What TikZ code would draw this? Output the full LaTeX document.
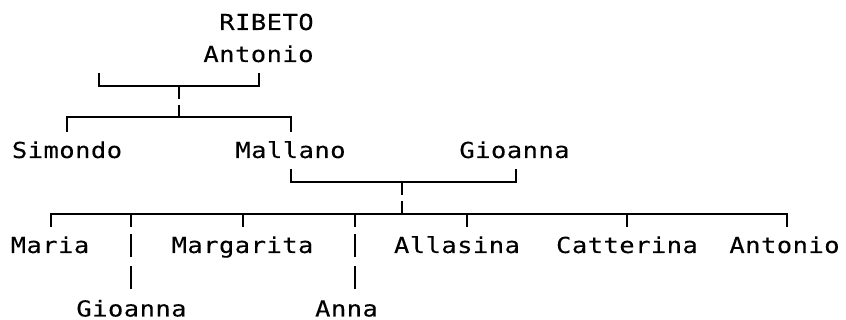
\documentclass[tikz,border=0pt]{standalone}
\usepackage{fontspec}
\newfontfamily\treemono[FakeStretch=1.16,LetterSpace=2,FakeBold=0.12]{DejaVu Sans Mono}
\begin{document}
\begin{tikzpicture}[x=0.75pt,y=-0.75pt,
  person/.style={font=\treemono\fontsize{16.5}{16.5}\selectfont, anchor=base, inner sep=0pt},
  link/.style={line width=1.5pt, line cap=butt}]
\useasboundingbox (0,0) rectangle (846,320);
% names
\node[person] (ribeto)    at (266.5,30)  {RIBETO};
\node[person] (antonio0)  at (258.5,62)  {Antonio};
\node[person] (simondo)   at (67,158)    {Simondo};
\node[person] (mallano)   at (290.5,158) {Mallano};
\node[person] (gioannaW)  at (514.5,158) {Gioanna};
\node[person] (maria)     at (50,253)    {Maria};
\node[person] (margarita) at (242.5,253) {Margarita};
\node[person] (allasina)  at (457,253)   {Allasina};
\node[person] (catterina) at (627,253)   {Catterina};
\node[person] (antonio1)  at (784.5,253) {Antonio};
\node[person] (gioanna1)  at (131.5,316.5) {Gioanna};
\node[person] (anna)      at (346.5,316.5) {Anna};
% junction points
\coordinate (sp0)  at (99,73);
\coordinate (an0)  at (259,73);
\coordinate (m0)   at (179,86);
\coordinate (sim0) at (67,132);
\coordinate (mal0) at (291,132);
\coordinate (mal1) at (291,169);
\coordinate (gio1) at (516,169);
\coordinate (m1)   at (402,182);
\coordinate (mar0) at (51,227);
\coordinate (gi0)  at (130.5,227);
\coordinate (mg0)  at (243,227);
\coordinate (an1)  at (355,227);
\coordinate (al0)  at (467,227);
\coordinate (ca0)  at (627,227);
\coordinate (at0)  at (787,227);
% first generation
\draw[link] (sp0) -- ++(0,13) -| (an0);
\draw[link] (m0) -- ++(0,13);
\draw[link] (m0) ++(0,19) -- ++(0,12);
\draw[link] (sim0) -- ++(0,-15) -| (mal0);
% second generation
\draw[link] (mal1) -- ++(0,13) -| (gio1);
\draw[link] (m1) -- ++(0,13);
\draw[link] (m1) ++(0,19) -- ++(0,13);
\draw[link] (mar0) -- ++(0,-13) -| (at0);
\foreach \c in {gi0,mg0,an1,al0,ca0}
  \draw[link] (\c) -- ++(0,-13);
\foreach \c in {gi0,an1} {
  \draw[link] (\c) ++(0,7) -- ++(0,23);
  \draw[link] (\c) ++(0,39) -- ++(0,23);
}
\end{tikzpicture}
\end{document}
